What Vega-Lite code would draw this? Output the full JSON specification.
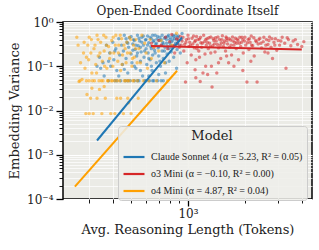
{
"$schema": "https://vega.github.io/schema/vega-lite/v6.json",
"width": 249, "height": 177,
"autosize": {"type": "none"},
"padding": {"left": 63, "top": 22, "right": 7, "bottom": 51},
"background": "white",
"title": {"text": "Open-Ended Coordinate Itself", "font": "DejaVu Serif", "fontSize": 12, "fontWeight": "normal", "color": "#222222", "offset": -2, "anchor": "middle"},
"config": {
  "view": {"fill": "#ebebe6", "stroke": "black", "strokeWidth": 1.5},
  "legend": {
    "orient": "none", "legendX": 55, "legendY": 104,
    "titleFont": "DejaVu Serif", "titleFontSize": 13, "titleFontWeight": "normal", "titleColor": "#222222", "titleAnchor": "middle", "titlePadding": 2,
    "labelFont": "Liberation Serif", "labelFontSize": 10, "labelColor": "#222222", "labelOffset": 5,
    "symbolType": "stroke", "symbolSize": 440, "symbolStrokeWidth": 2.2, "symbolOpacity": 1,
    "fillColor": "rgba(238,238,234,0.85)", "strokeColor": "#cccccc", "cornerRadius": 3, "padding": 4, "rowPadding": -4.5
  }
},
"datasets": {
  "fits": [
    {"m": "Claude Sonnet 4", "x": 330, "y": 0.0021}, {"m": "Claude Sonnet 4", "x": 930, "y": 0.45},
    {"m": "o3 Mini", "x": 637, "y": 0.286}, {"m": "o3 Mini", "x": 4000, "y": 0.24},
    {"m": "o4 Mini", "x": 252, "y": 0.00019}, {"m": "o4 Mini", "x": 875, "y": 0.079}
  ],
  "points": [
    {"m":"Claude Sonnet 4","x":340,"y":0.16},{"m":"Claude Sonnet 4","x":345,"y":0.09},{"m":"Claude Sonnet 4","x":355,"y":0.12},{"m":"Claude Sonnet 4","x":370,"y":0.3},{"m":"Claude Sonnet 4","x":380,"y":0.047},{"m":"Claude Sonnet 4","x":385,"y":0.2},{"m":"Claude Sonnet 4","x":390,"y":0.1},{"m":"Claude Sonnet 4","x":400,"y":0.35},{"m":"Claude Sonnet 4","x":405,"y":0.14},{"m":"Claude Sonnet 4","x":410,"y":0.047},{"m":"Claude Sonnet 4","x":415,"y":0.25},{"m":"Claude Sonnet 4","x":420,"y":0.08},{"m":"Claude Sonnet 4","x":430,"y":0.42},{"m":"Claude Sonnet 4","x":435,"y":0.18},{"m":"Claude Sonnet 4","x":440,"y":0.047},{"m":"Claude Sonnet 4","x":445,"y":0.3},{"m":"Claude Sonnet 4","x":450,"y":0.11},{"m":"Claude Sonnet 4","x":455,"y":0.22},{"m":"Claude Sonnet 4","x":460,"y":0.5},{"m":"Claude Sonnet 4","x":465,"y":0.047},{"m":"Claude Sonnet 4","x":470,"y":0.15},{"m":"Claude Sonnet 4","x":475,"y":0.35},{"m":"Claude Sonnet 4","x":480,"y":0.07},{"m":"Claude Sonnet 4","x":485,"y":0.27},{"m":"Claude Sonnet 4","x":490,"y":0.44},{"m":"Claude Sonnet 4","x":495,"y":0.047},{"m":"Claude Sonnet 4","x":500,"y":0.19},{"m":"Claude Sonnet 4","x":505,"y":0.12},{"m":"Claude Sonnet 4","x":510,"y":0.32},{"m":"Claude Sonnet 4","x":515,"y":0.4},{"m":"Claude Sonnet 4","x":520,"y":0.047},{"m":"Claude Sonnet 4","x":525,"y":0.24},{"m":"Claude Sonnet 4","x":530,"y":0.09},{"m":"Claude Sonnet 4","x":535,"y":0.17},{"m":"Claude Sonnet 4","x":540,"y":0.5},{"m":"Claude Sonnet 4","x":545,"y":0.29},{"m":"Claude Sonnet 4","x":550,"y":0.047},{"m":"Claude Sonnet 4","x":555,"y":0.37},{"m":"Claude Sonnet 4","x":560,"y":0.13},{"m":"Claude Sonnet 4","x":565,"y":0.21},{"m":"Claude Sonnet 4","x":570,"y":0.45},{"m":"Claude Sonnet 4","x":575,"y":0.06},{"m":"Claude Sonnet 4","x":580,"y":0.3},{"m":"Claude Sonnet 4","x":585,"y":0.16},{"m":"Claude Sonnet 4","x":590,"y":0.047},{"m":"Claude Sonnet 4","x":595,"y":0.39},{"m":"Claude Sonnet 4","x":600,"y":0.25},{"m":"Claude Sonnet 4","x":605,"y":0.11},{"m":"Claude Sonnet 4","x":610,"y":0.48},{"m":"Claude Sonnet 4","x":615,"y":0.2},{"m":"Claude Sonnet 4","x":620,"y":0.34},{"m":"Claude Sonnet 4","x":625,"y":0.047},{"m":"Claude Sonnet 4","x":630,"y":0.14},{"m":"Claude Sonnet 4","x":635,"y":0.28},{"m":"Claude Sonnet 4","x":640,"y":0.42},{"m":"Claude Sonnet 4","x":645,"y":0.08},{"m":"Claude Sonnet 4","x":650,"y":0.18},{"m":"Claude Sonnet 4","x":655,"y":0.36},{"m":"Claude Sonnet 4","x":660,"y":0.047},{"m":"Claude Sonnet 4","x":665,"y":0.23},{"m":"Claude Sonnet 4","x":670,"y":0.5},{"m":"Claude Sonnet 4","x":675,"y":0.31},{"m":"Claude Sonnet 4","x":680,"y":0.12},{"m":"Claude Sonnet 4","x":685,"y":0.41},{"m":"Claude Sonnet 4","x":690,"y":0.047},{"m":"Claude Sonnet 4","x":695,"y":0.26},{"m":"Claude Sonnet 4","x":700,"y":0.17},{"m":"Claude Sonnet 4","x":705,"y":0.38},{"m":"Claude Sonnet 4","x":710,"y":0.45},{"m":"Claude Sonnet 4","x":715,"y":0.1},{"m":"Claude Sonnet 4","x":720,"y":0.047},{"m":"Claude Sonnet 4","x":725,"y":0.3},{"m":"Claude Sonnet 4","x":730,"y":0.22},{"m":"Claude Sonnet 4","x":735,"y":0.35},{"m":"Claude Sonnet 4","x":740,"y":0.15},{"m":"Claude Sonnet 4","x":750,"y":0.43},{"m":"Claude Sonnet 4","x":755,"y":0.27},{"m":"Claude Sonnet 4","x":760,"y":0.07},{"m":"Claude Sonnet 4","x":770,"y":0.33},{"m":"Claude Sonnet 4","x":775,"y":0.19},{"m":"Claude Sonnet 4","x":780,"y":0.47},{"m":"Claude Sonnet 4","x":790,"y":0.25},{"m":"Claude Sonnet 4","x":795,"y":0.13},{"m":"Claude Sonnet 4","x":800,"y":0.4},{"m":"Claude Sonnet 4","x":810,"y":0.3},{"m":"Claude Sonnet 4","x":815,"y":0.21},{"m":"Claude Sonnet 4","x":820,"y":0.36},{"m":"Claude Sonnet 4","x":830,"y":0.5},{"m":"Claude Sonnet 4","x":840,"y":0.16},{"m":"Claude Sonnet 4","x":845,"y":0.28},{"m":"Claude Sonnet 4","x":850,"y":0.42},{"m":"Claude Sonnet 4","x":860,"y":0.33},{"m":"Claude Sonnet 4","x":870,"y":0.09},{"m":"Claude Sonnet 4","x":875,"y":0.24},{"m":"Claude Sonnet 4","x":880,"y":0.45},{"m":"Claude Sonnet 4","x":890,"y":0.37},{"m":"Claude Sonnet 4","x":900,"y":0.3},{"m":"Claude Sonnet 4","x":910,"y":0.2},{"m":"Claude Sonnet 4","x":920,"y":0.4},{"m":"Claude Sonnet 4","x":930,"y":0.55},
    {"m":"Claude Sonnet 4","x":470,"y":0.42},{"m":"Claude Sonnet 4","x":480,"y":0.33},{"m":"Claude Sonnet 4","x":500,"y":0.47},{"m":"Claude Sonnet 4","x":510,"y":0.23},{"m":"Claude Sonnet 4","x":520,"y":0.38},{"m":"Claude Sonnet 4","x":530,"y":0.3},{"m":"Claude Sonnet 4","x":540,"y":0.2},{"m":"Claude Sonnet 4","x":550,"y":0.43},{"m":"Claude Sonnet 4","x":560,"y":0.27},{"m":"Claude Sonnet 4","x":570,"y":0.35},{"m":"Claude Sonnet 4","x":580,"y":0.48},{"m":"Claude Sonnet 4","x":590,"y":0.22},{"m":"Claude Sonnet 4","x":600,"y":0.4},{"m":"Claude Sonnet 4","x":610,"y":0.3},{"m":"Claude Sonnet 4","x":620,"y":0.15},{"m":"Claude Sonnet 4","x":630,"y":0.45},{"m":"Claude Sonnet 4","x":640,"y":0.25},{"m":"Claude Sonnet 4","x":650,"y":0.5},{"m":"Claude Sonnet 4","x":660,"y":0.38},{"m":"Claude Sonnet 4","x":670,"y":0.2},{"m":"Claude Sonnet 4","x":680,"y":0.33},{"m":"Claude Sonnet 4","x":690,"y":0.47},{"m":"Claude Sonnet 4","x":700,"y":0.28},{"m":"Claude Sonnet 4","x":710,"y":0.13},{"m":"Claude Sonnet 4","x":720,"y":0.4},{"m":"Claude Sonnet 4","x":730,"y":0.5},{"m":"Claude Sonnet 4","x":740,"y":0.32},{"m":"Claude Sonnet 4","x":750,"y":0.22},{"m":"Claude Sonnet 4","x":760,"y":0.45},{"m":"Claude Sonnet 4","x":770,"y":0.4},{"m":"Claude Sonnet 4","x":780,"y":0.28},{"m":"Claude Sonnet 4","x":790,"y":0.5},{"m":"Claude Sonnet 4","x":800,"y":0.34},{"m":"Claude Sonnet 4","x":810,"y":0.44},{"m":"Claude Sonnet 4","x":820,"y":0.26},{"m":"Claude Sonnet 4","x":830,"y":0.39},{"m":"Claude Sonnet 4","x":840,"y":0.47},{"m":"Claude Sonnet 4","x":850,"y":0.3},{"m":"Claude Sonnet 4","x":860,"y":0.5},{"m":"Claude Sonnet 4","x":870,"y":0.4},{"m":"Claude Sonnet 4","x":880,"y":0.33},{"m":"Claude Sonnet 4","x":890,"y":0.48},{"m":"Claude Sonnet 4","x":560,"y":0.08},{"m":"Claude Sonnet 4","x":620,"y":0.06},{"m":"Claude Sonnet 4","x":700,"y":0.065},{"m":"Claude Sonnet 4","x":640,"y":0.1},{"m":"Claude Sonnet 4","x":520,"y":0.1},{"m":"Claude Sonnet 4","x":430,"y":0.06},{"m":"Claude Sonnet 4","x":460,"y":0.085},{"m":"Claude Sonnet 4","x":380,"y":0.13},{"m":"Claude Sonnet 4","x":410,"y":0.22},{"m":"Claude Sonnet 4","x":600,"y":0.047},{"m":"Claude Sonnet 4","x":650,"y":0.047},{"m":"Claude Sonnet 4","x":540,"y":0.047},{"m":"Claude Sonnet 4","x":480,"y":0.047},{"m":"Claude Sonnet 4","x":420,"y":0.047},{"m":"Claude Sonnet 4","x":740,"y":0.047},{"m":"Claude Sonnet 4","x":360,"y":0.06},{"m":"Claude Sonnet 4","x":330,"y":0.1},{"m":"Claude Sonnet 4","x":760,"y":0.12},
    {"m":"o3 Mini","x":640,"y":0.33},{"m":"o3 Mini","x":660,"y":0.27},{"m":"o3 Mini","x":700,"y":0.38},{"m":"o3 Mini","x":720,"y":0.3},{"m":"o3 Mini","x":760,"y":0.45},{"m":"o3 Mini","x":780,"y":0.25},{"m":"o3 Mini","x":800,"y":0.36},{"m":"o3 Mini","x":820,"y":0.52},{"m":"o3 Mini","x":840,"y":0.29},{"m":"o3 Mini","x":850,"y":0.2},{"m":"o3 Mini","x":870,"y":0.42},{"m":"o3 Mini","x":880,"y":0.33},{"m":"o3 Mini","x":900,"y":0.27},{"m":"o3 Mini","x":910,"y":0.47},{"m":"o3 Mini","x":930,"y":0.37},{"m":"o3 Mini","x":950,"y":0.22},{"m":"o3 Mini","x":960,"y":0.31},{"m":"o3 Mini","x":970,"y":0.044},{"m":"o3 Mini","x":980,"y":0.4},{"m":"o3 Mini","x":990,"y":0.12},{"m":"o3 Mini","x":1000,"y":0.5},{"m":"o3 Mini","x":1010,"y":0.28},{"m":"o3 Mini","x":1020,"y":0.35},{"m":"o3 Mini","x":1040,"y":0.18},{"m":"o3 Mini","x":1050,"y":0.43},{"m":"o3 Mini","x":1060,"y":0.32},{"m":"o3 Mini","x":1080,"y":0.26},{"m":"o3 Mini","x":1090,"y":0.083},{"m":"o3 Mini","x":1095,"y":0.38},{"m":"o3 Mini","x":1100,"y":0.14},{"m":"o3 Mini","x":1110,"y":0.47},{"m":"o3 Mini","x":1120,"y":0.3},{"m":"o3 Mini","x":1140,"y":0.22},{"m":"o3 Mini","x":1150,"y":0.41},{"m":"o3 Mini","x":1160,"y":0.045},{"m":"o3 Mini","x":1170,"y":0.34},{"m":"o3 Mini","x":1180,"y":0.27},{"m":"o3 Mini","x":1200,"y":0.07},{"m":"o3 Mini","x":1210,"y":0.5},{"m":"o3 Mini","x":1220,"y":0.36},{"m":"o3 Mini","x":1230,"y":0.19},{"m":"o3 Mini","x":1250,"y":0.3},{"m":"o3 Mini","x":1260,"y":0.42},{"m":"o3 Mini","x":1270,"y":0.065},{"m":"o3 Mini","x":1280,"y":0.25},{"m":"o3 Mini","x":1300,"y":0.33},{"m":"o3 Mini","x":1320,"y":0.46},{"m":"o3 Mini","x":1330,"y":0.1},{"m":"o3 Mini","x":1340,"y":0.034},{"m":"o3 Mini","x":1350,"y":0.29},{"m":"o3 Mini","x":1370,"y":0.38},{"m":"o3 Mini","x":1390,"y":0.21},{"m":"o3 Mini","x":1400,"y":0.44},{"m":"o3 Mini","x":1420,"y":0.07},{"m":"o3 Mini","x":1430,"y":0.31},{"m":"o3 Mini","x":1450,"y":0.26},{"m":"o3 Mini","x":1470,"y":0.4},{"m":"o3 Mini","x":1490,"y":0.15},{"m":"o3 Mini","x":1500,"y":0.34},{"m":"o3 Mini","x":1520,"y":0.49},{"m":"o3 Mini","x":1540,"y":0.28},{"m":"o3 Mini","x":1560,"y":0.37},{"m":"o3 Mini","x":1580,"y":0.22},{"m":"o3 Mini","x":1600,"y":0.43},{"m":"o3 Mini","x":1620,"y":0.32},{"m":"o3 Mini","x":1640,"y":0.12},{"m":"o3 Mini","x":1660,"y":0.27},{"m":"o3 Mini","x":1680,"y":0.39},{"m":"o3 Mini","x":1700,"y":0.18},{"m":"o3 Mini","x":1720,"y":0.46},{"m":"o3 Mini","x":1750,"y":0.3},{"m":"o3 Mini","x":1770,"y":0.35},{"m":"o3 Mini","x":1800,"y":0.25},{"m":"o3 Mini","x":1820,"y":0.41},{"m":"o3 Mini","x":1850,"y":0.14},{"m":"o3 Mini","x":1870,"y":0.33},{"m":"o3 Mini","x":1900,"y":0.28},{"m":"o3 Mini","x":1930,"y":0.45},{"m":"o3 Mini","x":1960,"y":0.2},{"m":"o3 Mini","x":1990,"y":0.37},{"m":"o3 Mini","x":2020,"y":0.3},{"m":"o3 Mini","x":2050,"y":0.044},{"m":"o3 Mini","x":2080,"y":0.4},{"m":"o3 Mini","x":2100,"y":0.24},{"m":"o3 Mini","x":2130,"y":0.35},{"m":"o3 Mini","x":2160,"y":0.48},{"m":"o3 Mini","x":2200,"y":0.29},{"m":"o3 Mini","x":2240,"y":0.17},{"m":"o3 Mini","x":2280,"y":0.38},{"m":"o3 Mini","x":2320,"y":0.044},{"m":"o3 Mini","x":2350,"y":0.32},{"m":"o3 Mini","x":2400,"y":0.43},{"m":"o3 Mini","x":2450,"y":0.26},{"m":"o3 Mini","x":2500,"y":0.36},{"m":"o3 Mini","x":2550,"y":0.21},{"m":"o3 Mini","x":2600,"y":0.4},{"m":"o3 Mini","x":2650,"y":0.31},{"m":"o3 Mini","x":2700,"y":0.46},{"m":"o3 Mini","x":2750,"y":0.27},{"m":"o3 Mini","x":2800,"y":0.15},{"m":"o3 Mini","x":2850,"y":0.35},{"m":"o3 Mini","x":2900,"y":0.42},{"m":"o3 Mini","x":2950,"y":0.23},{"m":"o3 Mini","x":3000,"y":0.38},{"m":"o3 Mini","x":3050,"y":0.3},{"m":"o3 Mini","x":3150,"y":0.45},{"m":"o3 Mini","x":3250,"y":0.33},{"m":"o3 Mini","x":3300,"y":0.09},{"m":"o3 Mini","x":3400,"y":0.4},{"m":"o3 Mini","x":3500,"y":0.29},{"m":"o3 Mini","x":3600,"y":0.37},{"m":"o3 Mini","x":3800,"y":0.31},{"m":"o3 Mini","x":4000,"y":0.28},{"m":"o3 Mini","x":4100,"y":0.36},
    {"m":"o3 Mini","x":890,"y":0.4},{"m":"o3 Mini","x":920,"y":0.3},{"m":"o3 Mini","x":940,"y":0.45},{"m":"o3 Mini","x":975,"y":0.35},{"m":"o3 Mini","x":1005,"y":0.42},{"m":"o3 Mini","x":1030,"y":0.3},{"m":"o3 Mini","x":1070,"y":0.48},{"m":"o3 Mini","x":1085,"y":0.36},{"m":"o3 Mini","x":1115,"y":0.25},{"m":"o3 Mini","x":1130,"y":0.4},{"m":"o3 Mini","x":1165,"y":0.45},{"m":"o3 Mini","x":1190,"y":0.33},{"m":"o3 Mini","x":1240,"y":0.4},{"m":"o3 Mini","x":1265,"y":0.35},{"m":"o3 Mini","x":1290,"y":0.44},{"m":"o3 Mini","x":1310,"y":0.28},{"m":"o3 Mini","x":1360,"y":0.42},{"m":"o3 Mini","x":1380,"y":0.32},{"m":"o3 Mini","x":1410,"y":0.37},{"m":"o3 Mini","x":1440,"y":0.46},{"m":"o3 Mini","x":1480,"y":0.3},{"m":"o3 Mini","x":1510,"y":0.4},{"m":"o3 Mini","x":1550,"y":0.33},{"m":"o3 Mini","x":1590,"y":0.46},{"m":"o3 Mini","x":1610,"y":0.38},{"m":"o3 Mini","x":1650,"y":0.42},{"m":"o3 Mini","x":1690,"y":0.3},{"m":"o3 Mini","x":1730,"y":0.37},{"m":"o3 Mini","x":1780,"y":0.43},{"m":"o3 Mini","x":1810,"y":0.33},{"m":"o3 Mini","x":1840,"y":0.38},{"m":"o3 Mini","x":1880,"y":0.45},{"m":"o3 Mini","x":1920,"y":0.35},{"m":"o3 Mini","x":1950,"y":0.4},{"m":"o3 Mini","x":2000,"y":0.45},{"m":"o3 Mini","x":2060,"y":0.34},{"m":"o3 Mini","x":2110,"y":0.42},{"m":"o3 Mini","x":2170,"y":0.3},{"m":"o3 Mini","x":2230,"y":0.44},{"m":"o3 Mini","x":2300,"y":0.36},{"m":"o3 Mini","x":2370,"y":0.4},{"m":"o3 Mini","x":2430,"y":0.33},{"m":"o3 Mini","x":2520,"y":0.45},{"m":"o3 Mini","x":2580,"y":0.3},{"m":"o3 Mini","x":2680,"y":0.38},{"m":"o3 Mini","x":2780,"y":0.42},{"m":"o3 Mini","x":2880,"y":0.3},{"m":"o3 Mini","x":3100,"y":0.37},{"m":"o3 Mini","x":3350,"y":0.44},{"m":"o3 Mini","x":3700,"y":0.4},{"m":"o3 Mini","x":1150,"y":0.16},{"m":"o3 Mini","x":1320,"y":0.2},{"m":"o3 Mini","x":1450,"y":0.12},{"m":"o3 Mini","x":1750,"y":0.1},{"m":"o3 Mini","x":1100,"y":0.055},{"m":"o3 Mini","x":1240,"y":0.1},{"m":"o3 Mini","x":1600,"y":0.17},{"m":"o3 Mini","x":2150,"y":0.13},{"m":"o3 Mini","x":1950,"y":0.08},{"m":"o3 Mini","x":2650,"y":0.2},
    {"m":"o4 Mini","x":258,"y":0.45},{"m":"o4 Mini","x":265,"y":0.045},{"m":"o4 Mini","x":270,"y":0.12},{"m":"o4 Mini","x":275,"y":0.05},{"m":"o4 Mini","x":280,"y":0.2},{"m":"o4 Mini","x":285,"y":0.09},{"m":"o4 Mini","x":288,"y":0.0085},{"m":"o4 Mini","x":290,"y":0.047},{"m":"o4 Mini","x":292,"y":0.023},{"m":"o4 Mini","x":295,"y":0.3},{"m":"o4 Mini","x":298,"y":0.14},{"m":"o4 Mini","x":300,"y":0.047},{"m":"o4 Mini","x":305,"y":0.019},{"m":"o4 Mini","x":308,"y":0.4},{"m":"o4 Mini","x":310,"y":0.07},{"m":"o4 Mini","x":315,"y":0.0085},{"m":"o4 Mini","x":318,"y":0.25},{"m":"o4 Mini","x":320,"y":0.047},{"m":"o4 Mini","x":325,"y":0.11},{"m":"o4 Mini","x":330,"y":0.5},{"m":"o4 Mini","x":335,"y":0.17},{"m":"o4 Mini","x":338,"y":0.047},{"m":"o4 Mini","x":340,"y":0.03},{"m":"o4 Mini","x":345,"y":0.35},{"m":"o4 Mini","x":350,"y":0.0085},{"m":"o4 Mini","x":352,"y":0.13},{"m":"o4 Mini","x":355,"y":0.047},{"m":"o4 Mini","x":360,"y":0.22},{"m":"o4 Mini","x":365,"y":0.019},{"m":"o4 Mini","x":368,"y":0.45},{"m":"o4 Mini","x":372,"y":0.09},{"m":"o4 Mini","x":375,"y":0.047},{"m":"o4 Mini","x":380,"y":0.28},{"m":"o4 Mini","x":385,"y":0.15},{"m":"o4 Mini","x":390,"y":0.0085},{"m":"o4 Mini","x":392,"y":0.047},{"m":"o4 Mini","x":395,"y":0.38},{"m":"o4 Mini","x":400,"y":0.1},{"m":"o4 Mini","x":405,"y":0.2},{"m":"o4 Mini","x":410,"y":0.047},{"m":"o4 Mini","x":415,"y":0.5},{"m":"o4 Mini","x":420,"y":0.019},{"m":"o4 Mini","x":425,"y":0.13},{"m":"o4 Mini","x":430,"y":0.3},{"m":"o4 Mini","x":435,"y":0.047},{"m":"o4 Mini","x":440,"y":0.08},{"m":"o4 Mini","x":445,"y":0.42},{"m":"o4 Mini","x":450,"y":0.18},{"m":"o4 Mini","x":455,"y":0.0085},{"m":"o4 Mini","x":460,"y":0.047},{"m":"o4 Mini","x":465,"y":0.25},{"m":"o4 Mini","x":470,"y":0.12},{"m":"o4 Mini","x":475,"y":0.35},{"m":"o4 Mini","x":480,"y":0.047},{"m":"o4 Mini","x":485,"y":0.015},{"m":"o4 Mini","x":490,"y":0.45},{"m":"o4 Mini","x":495,"y":0.2},{"m":"o4 Mini","x":500,"y":0.0085},{"m":"o4 Mini","x":505,"y":0.1},{"m":"o4 Mini","x":510,"y":0.047},{"m":"o4 Mini","x":515,"y":0.3},{"m":"o4 Mini","x":520,"y":0.16},{"m":"o4 Mini","x":530,"y":0.4},{"m":"o4 Mini","x":540,"y":0.047},{"m":"o4 Mini","x":545,"y":0.019},{"m":"o4 Mini","x":550,"y":0.25},{"m":"o4 Mini","x":560,"y":0.12},{"m":"o4 Mini","x":570,"y":0.5},{"m":"o4 Mini","x":580,"y":0.047},{"m":"o4 Mini","x":590,"y":0.33},{"m":"o4 Mini","x":600,"y":0.2},{"m":"o4 Mini","x":610,"y":0.09},{"m":"o4 Mini","x":620,"y":0.047},{"m":"o4 Mini","x":630,"y":0.4},{"m":"o4 Mini","x":640,"y":0.15},{"m":"o4 Mini","x":660,"y":0.28},{"m":"o4 Mini","x":680,"y":0.047},{"m":"o4 Mini","x":700,"y":0.22},{"m":"o4 Mini","x":720,"y":0.38},{"m":"o4 Mini","x":750,"y":0.12},{"m":"o4 Mini","x":780,"y":0.047},{"m":"o4 Mini","x":820,"y":0.3},{"m":"o4 Mini","x":870,"y":0.56},
    {"m":"o4 Mini","x":262,"y":0.3},{"m":"o4 Mini","x":268,"y":0.047},{"m":"o4 Mini","x":282,"y":0.35},{"m":"o4 Mini","x":290,"y":0.16},{"m":"o4 Mini","x":300,"y":0.45},{"m":"o4 Mini","x":306,"y":0.2},{"m":"o4 Mini","x":312,"y":0.047},{"m":"o4 Mini","x":322,"y":0.3},{"m":"o4 Mini","x":328,"y":0.07},{"m":"o4 Mini","x":334,"y":0.4},{"m":"o4 Mini","x":342,"y":0.2},{"m":"o4 Mini","x":348,"y":0.047},{"m":"o4 Mini","x":358,"y":0.5},{"m":"o4 Mini","x":362,"y":0.1},{"m":"o4 Mini","x":370,"y":0.3},{"m":"o4 Mini","x":378,"y":0.047},{"m":"o4 Mini","x":388,"y":0.2},{"m":"o4 Mini","x":398,"y":0.047},{"m":"o4 Mini","x":402,"y":0.45},{"m":"o4 Mini","x":412,"y":0.3},{"m":"o4 Mini","x":422,"y":0.047},{"m":"o4 Mini","x":428,"y":0.2},{"m":"o4 Mini","x":438,"y":0.5},{"m":"o4 Mini","x":448,"y":0.11},{"m":"o4 Mini","x":458,"y":0.3},{"m":"o4 Mini","x":468,"y":0.047},{"m":"o4 Mini","x":478,"y":0.2},{"m":"o4 Mini","x":488,"y":0.047},{"m":"o4 Mini","x":498,"y":0.4},{"m":"o4 Mini","x":508,"y":0.15},{"m":"o4 Mini","x":518,"y":0.047},{"m":"o4 Mini","x":528,"y":0.25},{"m":"o4 Mini","x":538,"y":0.12},{"m":"o4 Mini","x":300,"y":0.0085},{"m":"o4 Mini","x":330,"y":0.019},{"m":"o4 Mini","x":410,"y":0.0085},{"m":"o4 Mini","x":480,"y":0.019},{"m":"o4 Mini","x":440,"y":0.019},{"m":"o4 Mini","x":310,"y":0.032},{"m":"o4 Mini","x":360,"y":0.035}
  ]
},
"encoding": {
  "x": {"field": "x", "type": "quantitative",
    "scale": {"type": "log", "domain": [218, 4530], "nice": false},
    "axis": {"title": "Avg. Reasoning Length (Tokens)", "values": [300,400,500,600,700,800,900,1000,2000,3000,4000],
      "labelExpr": "datum.value == 1000 ? '10³' : ''",
      "domain": false, "grid": true, "gridColor": "white",
      "gridWidth": {"condition": {"test": "datum.value == 1000", "value": 1.2}, "value": 0.7},
      "tickColor": "black", "tickSize": {"condition": {"test": "datum.value == 1000", "value": 7}, "value": 4},
      "tickWidth": {"condition": {"test": "datum.value == 1000", "value": 1.3}, "value": 0.9},
      "labelFont": "DejaVu Serif", "labelFontSize": 12, "labelColor": "#222222", "labelPadding": 2,
      "titleFont": "DejaVu Serif", "titleFontSize": 13, "titleFontWeight": "normal", "titleColor": "#222222", "titlePadding": 4}},
  "y": {"field": "y", "type": "quantitative",
    "scale": {"type": "log", "domain": [0.0001, 1], "nice": false},
    "axis": {"title": "Embedding Variance",
      "values": [0.0001,0.0002,0.0003,0.0004,0.0005,0.0006,0.0007,0.0008,0.0009,0.001,0.002,0.003,0.004,0.005,0.006,0.007,0.008,0.009,0.01,0.02,0.03,0.04,0.05,0.06,0.07,0.08,0.09,0.1,0.2,0.3,0.4,0.5,0.6,0.7,0.8,0.9,1],
      "labelExpr": "datum.value == 1 ? '10⁰' : datum.value == 0.1 ? '10⁻¹' : datum.value == 0.01 ? '10⁻²' : datum.value == 0.001 ? '10⁻³' : datum.value == 0.0001 ? '10⁻⁴' : ''",
      "domain": false, "grid": true, "gridColor": "white",
      "gridWidth": {"condition": {"test": "indexof([1,0.1,0.01,0.001,0.0001], datum.value) >= 0", "value": 1.2}, "value": 0.7},
      "tickColor": "black",
      "tickSize": {"condition": {"test": "indexof([1,0.1,0.01,0.001,0.0001], datum.value) >= 0", "value": 7}, "value": 4},
      "tickWidth": {"condition": {"test": "indexof([1,0.1,0.01,0.001,0.0001], datum.value) >= 0", "value": 1.3}, "value": 0.9},
      "labelFont": "DejaVu Serif", "labelFontSize": 12, "labelColor": "#222222", "labelPadding": 3,
      "titleFont": "DejaVu Serif", "titleFontSize": 13, "titleFontWeight": "normal", "titleColor": "#222222", "titlePadding": 5}},
  "color": {"field": "m", "type": "nominal",
    "scale": {"domain": ["Claude Sonnet 4", "o3 Mini", "o4 Mini"], "range": ["#1f77b4", "#d62728", "#ffa000"]},
    "legend": {"title": "Model",
      "labelExpr": "datum.label == 'Claude Sonnet 4' ? 'Claude Sonnet 4 (α = 5.23, R² = 0.05)' : datum.label == 'o3 Mini' ? 'o3 Mini (α = −0.10, R² = 0.00)' : 'o4 Mini (α = 4.87, R² = 0.04)'"}}
},
"layer": [
  {"data": {"name": "points"}, "mark": {"type": "circle", "size": 12, "opacity": 0.55}},
  {"data": {"name": "fits"}, "mark": {"type": "line", "strokeWidth": 2, "clip": true}, "encoding": {"detail": {"field": "m"}}}
]
}
